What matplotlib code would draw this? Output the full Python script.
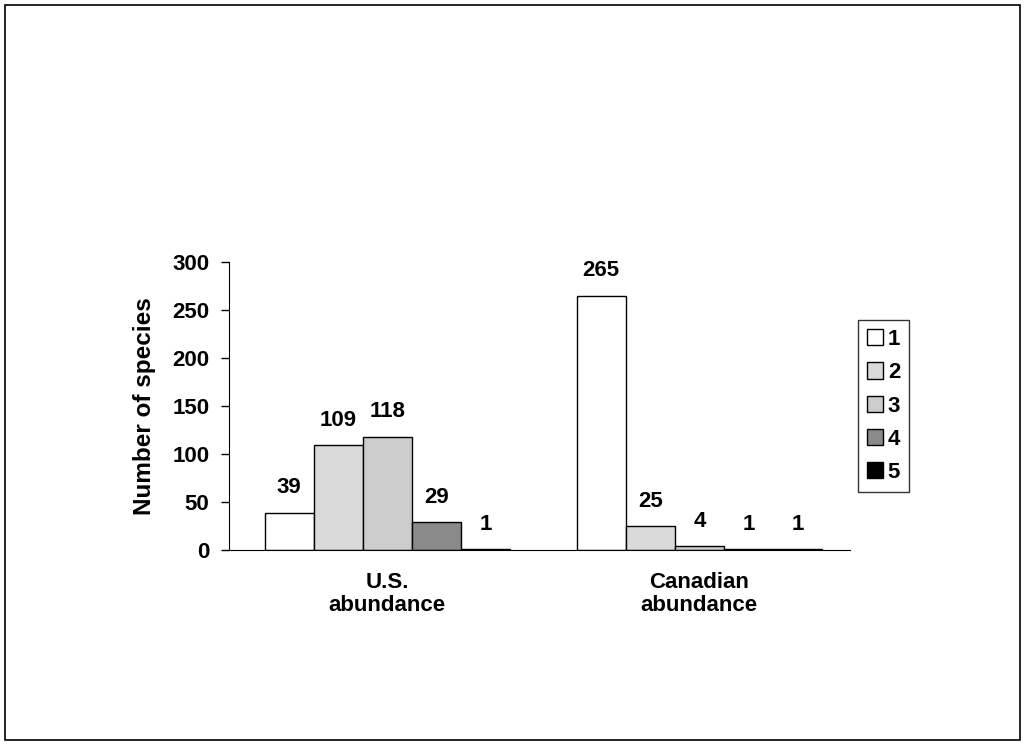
import numpy as np
import matplotlib.pyplot as plt
from matplotlib.patches import Rectangle

plt.rcParams['font.family'] = ['Liberation Sans', 'DejaVu Sans']
plt.rcParams['font.weight'] = 'bold'

groups = ['U.S.\nabundance', 'Canadian\nabundance']
classes = ['1', '2', '3', '4', '5']
us_counts = [39, 109, 118, 29, 1]
ca_counts = [265, 25, 4, 1, 1]
fills = ['white', '#dadada', '#cccccc', '#8a8a8a', 'black']

fig = plt.figure(figsize=(10.25, 7.45), dpi=100)
fig.patches.append(Rectangle((0.005, 0.007), 0.99, 0.986, transform=fig.transFigure,
                             fill=False, edgecolor='black', linewidth=1.2))
ax = fig.add_axes([0.2234, 0.2617, 0.6059, 0.3866])

w = 0.158
centers = np.array([0.51, 1.515])
values = np.array([us_counts, ca_counts])
for i, c in enumerate(classes):
    xs = centers + (i - 2) * w
    ax.bar(xs, values[:, i], width=w, color=fills[i], edgecolor='black',
           linewidth=1.0, label=c)
    for x, v in zip(xs, values[:, i]):
        ax.annotate(str(v), (x, v), xytext=(0, 18), textcoords='offset points',
                    ha='center', va='center', fontsize=16, fontweight='bold')

ax.set_xlim(0, 2)
ax.set_ylim(0, 300)
ax.set_yticks(range(0, 301, 50))
ax.tick_params(axis='y', labelsize=16, length=6, direction='out', width=1, pad=8)
ax.set_xticks(centers)
ax.set_xticklabels(groups, fontsize=16, fontweight='bold', linespacing=1.1)
ax.tick_params(axis='x', length=0, pad=16)
ax.spines['top'].set_visible(False)
ax.spines['right'].set_visible(False)
ax.set_ylabel('Number of species', fontsize=17.5, fontweight='bold', labelpad=12)

leg = ax.legend(loc='center left', bbox_to_anchor=(1.0, 0.5), frameon=True, fancybox=False,
                edgecolor='black', fontsize=16, handlelength=0.75, handleheight=0.75,
                handletextpad=0.2, labelspacing=0.55, borderpad=0.4, borderaxespad=0.35)
leg.get_frame().set_linewidth(1.0)

plt.savefig('out.png', dpi=100)
